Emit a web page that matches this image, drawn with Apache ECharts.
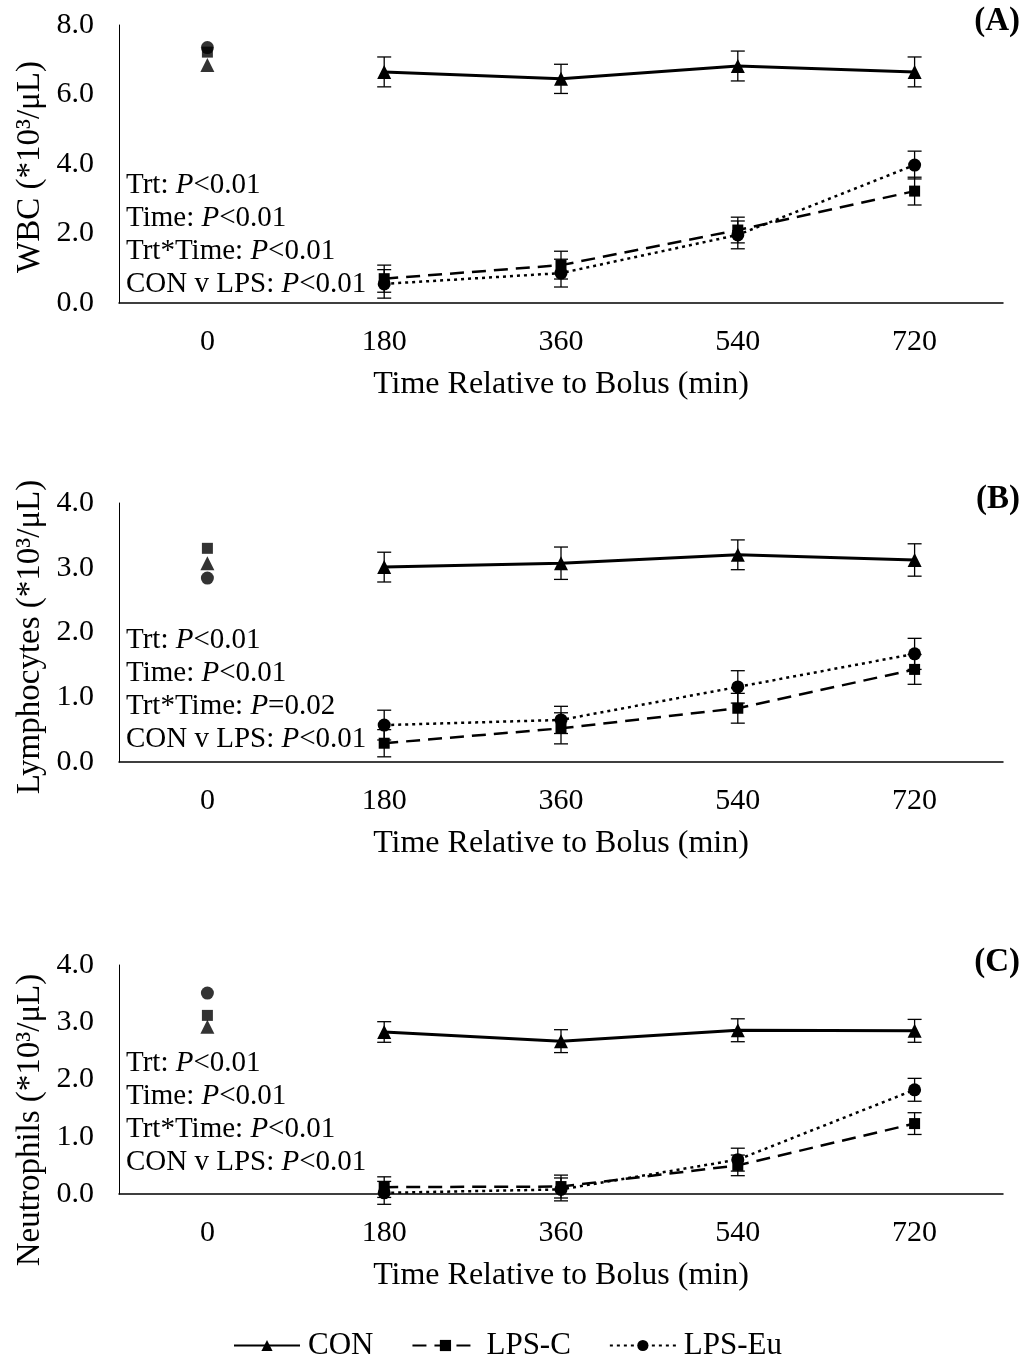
<!DOCTYPE html>
<html>
<head>
<meta charset="utf-8">
<script src="https://cdn.jsdelivr.net/npm/echarts@6/dist/echarts.min.js"></script>
<style>
  html, body { margin: 0; padding: 0; background: #fff; }
  #chart-container { width: 1024px; height: 1367px; }
</style>
</head>
<body>
<div id="chart-container"></div>
<script>
var times = ['0', '180', '360', '540', '720'];
var groups = ['CON', 'LPS-C', 'LPS-Eu'];

// (A) WBC
var wbcCON = [6.85, 6.65, 6.45, 6.82, 6.65];
var wbcCONse = [null, 0.43, 0.42, 0.43, 0.43];
var wbcLPSC = [7.22, 0.70, 1.09, 2.10, 3.22];
var wbcLPSCse = [null, 0.39, 0.40, 0.37, 0.40];
var wbcLPSEu = [7.35, 0.55, 0.86, 1.96, 3.97];
var wbcLPSEuse = [null, 0.41, 0.40, 0.40, 0.40];

// (B) Lymphocytes
var lymCON = [3.07, 3.01, 3.07, 3.20, 3.12];
var lymCONse = [null, 0.23, 0.25, 0.23, 0.25];
var lymLPSC = [3.30, 0.29, 0.52, 0.83, 1.43];
var lymLPSCse = [null, 0.21, 0.24, 0.23, 0.23];
var lymLPSEu = [2.84, 0.57, 0.65, 1.16, 1.67];
var lymLPSEuse = [null, 0.23, 0.21, 0.25, 0.24];

// (C) Neutrophils
var neuCON = [2.92, 2.83, 2.67, 2.86, 2.85];
var neuCONse = [null, 0.18, 0.20, 0.20, 0.20];
var neuLPSC = [3.12, 0.12, 0.13, 0.50, 1.23];
var neuLPSCse = [null, 0.18, 0.20, 0.18, 0.19];
var neuLPSEu = [3.51, 0.02, 0.08, 0.60, 1.82];
var neuLPSEuse = [null, 0.20, 0.20, 0.20, 0.20];

var yMax = [8, 4, 4];
var yStep = [2, 1, 1];
var yTitles = ['WBC (*10³/μL)', 'Lymphocytes (*10³/μL)', 'Neutrophils (*10³/μL)'];
var panelTags = ['(A)', '(B)', '(C)'];
var statLines = [
  ['Trt: {i|P}<0.01', 'Time: {i|P}<0.01', 'Trt*Time: {i|P}<0.01', 'CON v LPS: {i|P}<0.01'],
  ['Trt: {i|P}<0.01', 'Time: {i|P}<0.01', 'Trt*Time: {i|P}=0.02', 'CON v LPS: {i|P}<0.01'],
  ['Trt: {i|P}<0.01', 'Time: {i|P}<0.01', 'Trt*Time: {i|P}<0.01', 'CON v LPS: {i|P}<0.01']
];

var panels = [
  [[wbcCON, wbcCONse], [wbcLPSC, wbcLPSCse], [wbcLPSEu, wbcLPSEuse]],
  [[lymCON, lymCONse], [lymLPSC, lymLPSCse], [lymLPSEu, lymLPSEuse]],
  [[neuCON, neuCONse], [neuLPSC, neuLPSCse], [neuLPSEu, neuLPSEuse]]
];

var FONT = "'Liberation Serif', 'Times New Roman', serif";

// layout of the three plot areas
var gridTops = [25, 503, 965];
var gridHeights = [278, 259, 229];
var yTitleCenters = [167, 637, 1120];
var statTops = [185, 640, 1063];
var tagTops = [22, 500, 963];

var styles = [
  { symbol: 'triangle', size: 14, line: { color: '#000', width: 3, type: 'solid' } },
  { symbol: 'rect', size: 11, line: { color: '#000', width: 2.5, type: [14, 8] } },
  { symbol: 'circle', size: 13, line: { color: '#000', width: 2.5, type: [3, 4] } }
];

var grid = [], xAxis = [], yAxis = [], series = [], graphic = [];

panels.forEach(function (panel, p) {
  grid.push({ left: 119, right: 21, top: gridTops[p], height: gridHeights[p] });
  xAxis.push({
    type: 'category', gridIndex: p, data: times,
    axisLine: { lineStyle: { color: '#000', width: 1.5 } },
    axisTick: { show: false },
    axisLabel: { color: '#000', fontFamily: FONT, fontSize: 30, margin: 24 },
    name: 'Time Relative to Bolus (min)', nameLocation: 'middle', nameGap: 66,
    nameTextStyle: { color: '#000', fontFamily: FONT, fontSize: 32 }
  });
  yAxis.push({
    type: 'value', gridIndex: p, min: 0, max: yMax[p], interval: yStep[p],
    axisLine: { show: true, lineStyle: { color: '#000', width: 1 } },
    axisTick: { show: false },
    splitLine: { show: false },
    axisLabel: {
      color: '#000', fontFamily: FONT, fontSize: 30, margin: 25,
      formatter: function (v) { return v.toFixed(1); }
    }
  });

  panel.forEach(function (g, k) {
    var vals = g[0], se = g[1], st = styles[k];
    var lineData = vals.map(function (v, i) { return i === 0 ? null : v; });
    series.push({
      name: groups[k], type: 'line', xAxisIndex: p, yAxisIndex: p,
      data: lineData, connectNulls: false, z: 3,
      symbol: st.symbol, symbolSize: st.size,
      itemStyle: { color: '#000' }, lineStyle: st.line
    });
    series.push({
      name: groups[k] + ' baseline', type: 'scatter', xAxisIndex: p, yAxisIndex: p,
      data: [[0, vals[0]]], z: 3,
      symbol: st.symbol, symbolSize: st.size, itemStyle: { color: '#000' }
    });
    var errData = [];
    for (var i = 1; i < vals.length; i++) {
      errData.push([i, vals[i] - se[i], vals[i] + se[i]]);
    }
    series.push({
      type: 'custom', xAxisIndex: p, yAxisIndex: p, z: 2,
      data: errData, encode: { x: 0, y: [1, 2] },
      renderItem: function (params, api) {
        var top = api.coord([api.value(0), api.value(2)]);
        var bot = api.coord([api.value(0), api.value(1)]);
        var w = 7, s = { stroke: '#000', lineWidth: 1.3 };
        return {
          type: 'group', children: [
            { type: 'line', shape: { x1: top[0], y1: top[1], x2: bot[0], y2: bot[1] }, style: s },
            { type: 'line', shape: { x1: top[0] - w, y1: top[1], x2: top[0] + w, y2: top[1] }, style: s },
            { type: 'line', shape: { x1: bot[0] - w, y1: bot[1], x2: bot[0] + w, y2: bot[1] }, style: s }
          ]
        };
      }
    });
  });

  graphic.push({
    type: 'text', x: 30, y: yTitleCenters[p], rotation: Math.PI / 2,
    style: { text: yTitles[p], fill: '#000', font: '33px ' + FONT, align: 'center', verticalAlign: 'middle' }
  });
  graphic.push({
    type: 'text', right: 4, top: tagTops[p] - 17,
    style: { text: panelTags[p], fill: '#000', font: 'bold 33px ' + FONT }
  });
  statLines[p].forEach(function (t, j) {
    graphic.push({
      type: 'text', x: 126, y: statTops[p] + j * 33,
      style: {
        text: t, fill: '#000', fontFamily: FONT, fontSize: 29, verticalAlign: 'middle',
        rich: { i: { fontStyle: 'italic', fontFamily: FONT, fontSize: 29, fill: '#000' } }
      }
    });
  });
});

var myChart = echarts.init(document.getElementById('chart-container'), null, { renderer: 'canvas' });

var option = {
  backgroundColor: '#fff',
  animation: false,
  grid: grid,
  xAxis: xAxis,
  yAxis: yAxis,
  legend: {
    data: groups, left: 233, top: 1330, padding: 0, itemWidth: 66, itemHeight: 14, itemGap: 38,
    textStyle: { color: '#000', fontFamily: FONT, fontSize: 31, padding: [0, 0, 0, 3] }
  },
  graphic: graphic,
  series: series
};

myChart.setOption(option);
window.addEventListener('resize', myChart.resize);
</script>
</body>
</html>
